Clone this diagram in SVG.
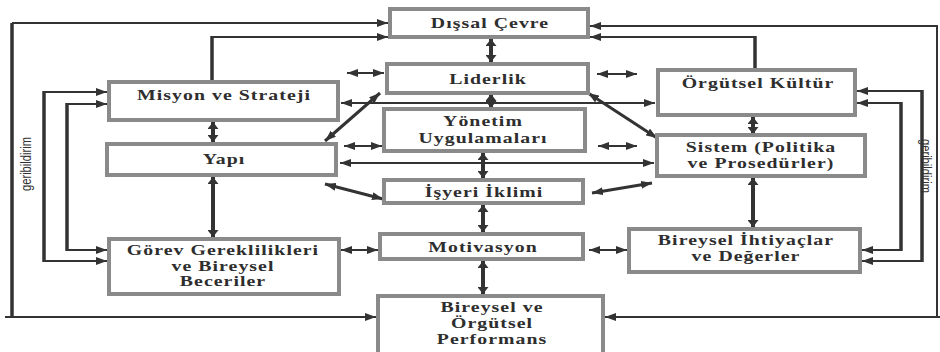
<svg xmlns="http://www.w3.org/2000/svg" width="940" height="352" viewBox="0 0 940 352">
<defs>
<style>
.box{fill:#fff;stroke:#8a8a8a;stroke-width:4}
.t{font-family:"Liberation Serif","Times New Roman",serif;font-size:15px;font-weight:bold;fill:#2e2e2e;text-anchor:middle;letter-spacing:0.8px}
.fb{font-family:"Liberation Sans",Arial,sans-serif;font-size:15px;fill:#333;text-anchor:middle}
.ln{stroke:#333;stroke-width:2;fill:none}
.lk{stroke:#333;stroke-width:3.5;fill:none}
.a1{stroke:#333;stroke-width:2;fill:none;marker-end:url(#ah)}
.a2{stroke:#333;stroke-width:2;fill:none;marker-start:url(#ah);marker-end:url(#ah)}
.a3{stroke:#333;stroke-width:4;fill:none;marker-start:url(#bh);marker-end:url(#bh)}
.a4{stroke:#333;stroke-width:3;fill:none;marker-start:url(#ah);marker-end:url(#ah)}
</style>
<marker id="ah" markerUnits="userSpaceOnUse" markerWidth="11" markerHeight="8" refX="11" refY="4" orient="auto-start-reverse"><path d="M0,0 L11,4 L0,8 z" fill="#333"/></marker>
<marker id="bh" markerUnits="userSpaceOnUse" markerWidth="7" markerHeight="11" refX="7" refY="5.5" orient="auto-start-reverse"><path d="M0,0 L7,5.5 L0,11 z" fill="#333"/></marker>
</defs>
<rect width="940" height="352" fill="#fff"/>
<g id="connectors">
<line class="lk" x1="12" y1="23" x2="12" y2="318"/>
<path class="a1" d="M12,23 H388"/>
<path class="a1" d="M5,317 H376"/>
<line class="ln" x1="937" y1="26" x2="937" y2="318"/>
<path class="a1" d="M938,26 H590"/>
<path class="a1" d="M940,317 H605"/>
<line class="lk" x1="212" y1="80" x2="212" y2="36"/>
<path class="a1" d="M211,37 H388"/>
<line class="lk" x1="755" y1="68" x2="755" y2="36"/>
<path class="a1" d="M756,37 H590"/>
<line class="lk" x1="44" y1="91" x2="44" y2="262"/>
<path class="a1" d="M43,92 H107"/>
<path class="a1" d="M43,261 H107"/>
<line class="lk" x1="67" y1="103" x2="67" y2="251"/>
<path class="a1" d="M66,104 H107"/>
<path class="a1" d="M66,250 H107"/>
<line class="lk" x1="922" y1="90" x2="922" y2="262"/>
<path class="a1" d="M923,91 H857"/>
<path class="a1" d="M923,261 H862"/>
<line class="lk" x1="901" y1="102" x2="901" y2="251"/>
<path class="a1" d="M902,103 H857"/>
<path class="a1" d="M902,250 H862"/>
<path class="a2" d="M341,103 H655"/>
<path class="a2" d="M340,163 H654"/>
<path class="a3" d="M491,39 V62"/>
<path class="a3" d="M491,94 V108"/>
<path class="a3" d="M483,153 V178"/>
<path class="a3" d="M483,205 V232"/>
<path class="a3" d="M483,261 V294"/>
<path class="a3" d="M213,122 V142"/>
<path class="a3" d="M213,177 V237"/>
<path class="a3" d="M753,117 V134"/>
<path class="a3" d="M753,178 V227"/>
<path class="a2" d="M347,73 H384"/>
<path class="a2" d="M597,74 H637"/>
<path class="a2" d="M344,146 H382"/>
<path class="a2" d="M598,146 H637"/>
<path class="a2" d="M341,250 H378"/>
<path class="a2" d="M589,250 H627"/>
<path class="a4" d="M380,93 L325,141"/>
<path class="a4" d="M588,93 L657,138"/>
<path class="a4" d="M325,184 L383,199"/>
<path class="a4" d="M592,193 L652,183"/>
</g>
<g id="dissal"><rect class="box" x="390" y="9" width="198" height="28"/><text class="t" transform="translate(490,28) scale(1.32,1)">Dışsal Çevre</text></g>
<g id="liderlik"><rect class="box" x="387" y="64" width="201" height="29"/><text class="t" transform="translate(488,84) scale(1.32,1)">Liderlik</text></g>
<g id="yonetim"><rect class="box" x="384" y="109" width="201" height="42"/><text class="t" transform="translate(483,126) scale(1.32,1)">Yönetim</text><text class="t" transform="translate(483,143) scale(1.32,1)">Uygulamaları</text></g>
<g id="isyeri"><rect class="box" x="384" y="180" width="199" height="23"/><text class="t" transform="translate(484,197) scale(1.32,1)">İşyeri İklimi</text></g>
<g id="motivasyon"><rect class="box" x="380" y="234" width="203" height="25"/><text class="t" transform="translate(483,252) scale(1.32,1)">Motivasyon</text></g>
<g id="performans"><rect class="box" x="378" y="296" width="225" height="62"/><text class="t" transform="translate(492,312) scale(1.32,1)">Bireysel ve</text><text class="t" transform="translate(492,328) scale(1.32,1)">Örgütsel</text><text class="t" transform="translate(492,344) scale(1.32,1)">Performans</text></g>
<g id="misyon"><rect class="box" x="109" y="82" width="229" height="38"/><text class="t" transform="translate(224,100) scale(1.32,1)">Misyon ve Strateji</text></g>
<g id="yapi"><rect class="box" x="107" y="144" width="229" height="31"/><text class="t" transform="translate(224,164) scale(1.32,1)">Yapı</text></g>
<g id="gorev"><rect class="box" x="109" y="239" width="230" height="55"/><text class="t" transform="translate(223,255) scale(1.32,1)">Görev Gereklilikleri</text><text class="t" transform="translate(223,270.5) scale(1.32,1)">ve Bireysel</text><text class="t" transform="translate(223,286) scale(1.32,1)">Beceriler</text></g>
<g id="kultur"><rect class="box" x="658" y="70" width="197" height="45"/><text class="t" transform="translate(758,88) scale(1.32,1)">Örgütsel Kültür</text></g>
<g id="sistem"><rect class="box" x="657" y="135" width="208" height="41"/><text class="t" transform="translate(761,152) scale(1.32,1)">Sistem (Politika</text><text class="t" transform="translate(761,168) scale(1.32,1)">ve Prosedürler)</text></g>
<g id="ihtiyaclar"><rect class="box" x="629" y="229" width="231" height="43"/><text class="t" transform="translate(746,245) scale(1.32,1)">Bireysel İhtiyaçlar</text><text class="t" transform="translate(746,261) scale(1.32,1)">ve Değerler</text></g>
<g id="labels">
<text class="fb" transform="translate(31,164) rotate(-90)" textLength="54" lengthAdjust="spacingAndGlyphs">geribildirim</text>
<text class="fb" transform="translate(921,166) rotate(90)" textLength="54" lengthAdjust="spacingAndGlyphs">geribildirim</text>
</g>
</svg>
